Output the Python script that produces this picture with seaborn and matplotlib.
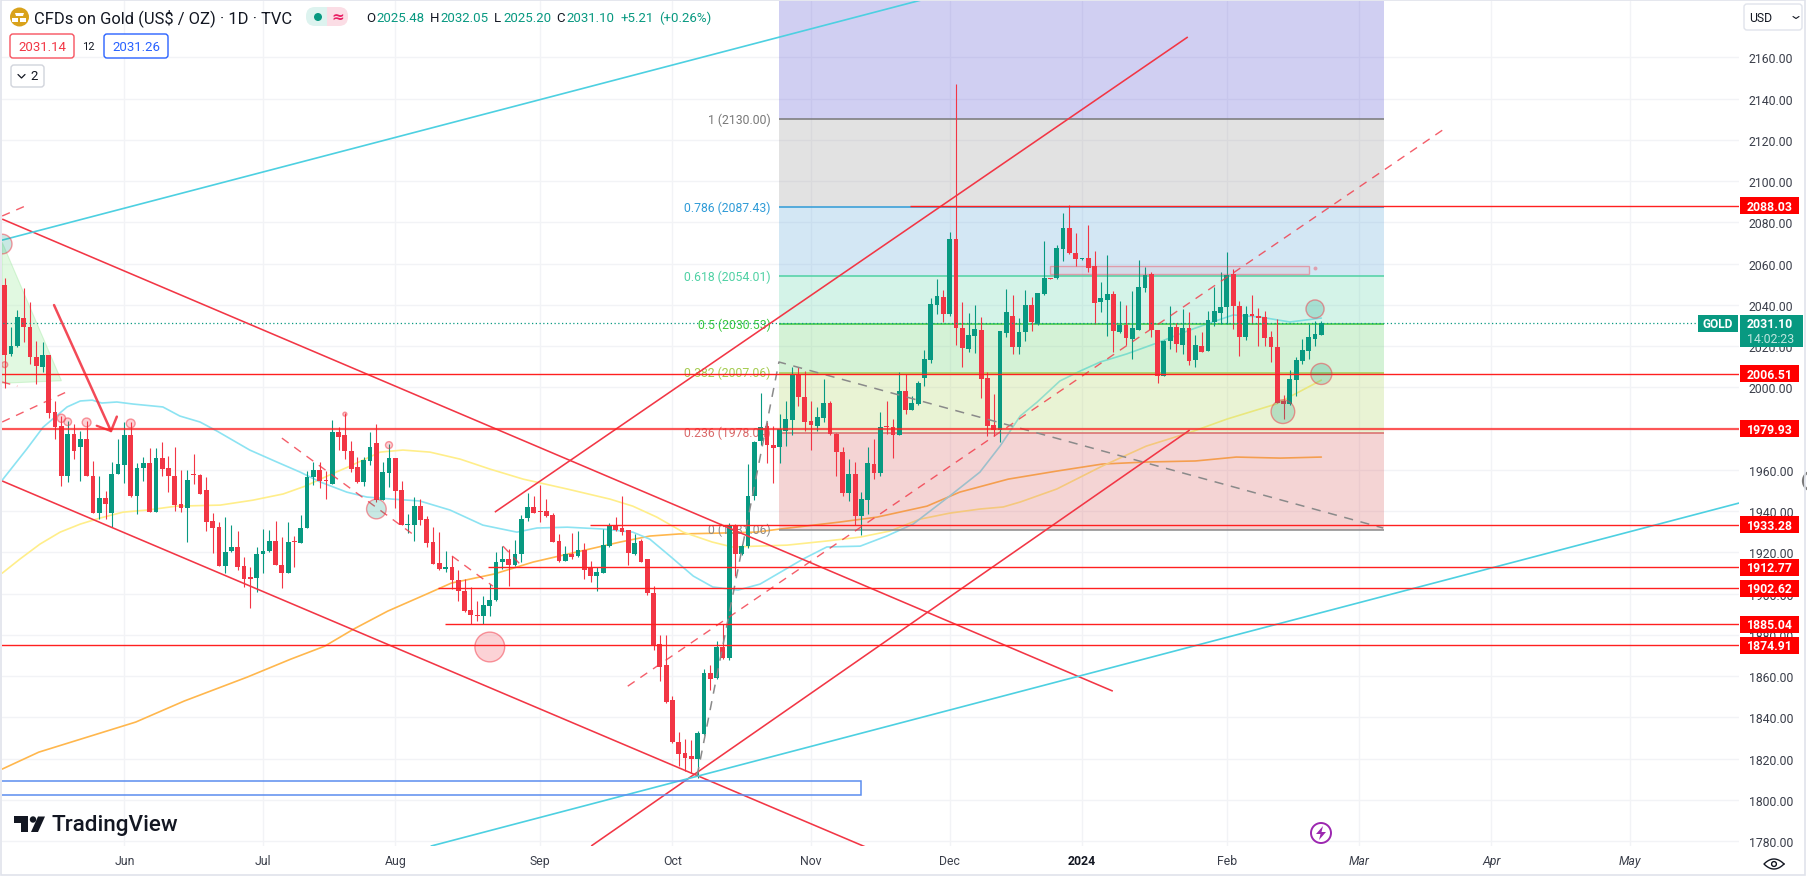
import numpy as np
import pandas as pd
import seaborn as sns
import matplotlib
matplotlib.use("Agg")
import matplotlib.pyplot as plt
from matplotlib.colors import to_rgba
from matplotlib.patches import Rectangle, FancyBboxPatch, Circle, Polygon

sns.set_theme(style="white")
plt.rcParams['font.family'] = ['Roboto', 'DejaVu Sans']

# daily candles
opens = [2049.6,2016.1,2020.2,2033.4,2029.4,2014.5,2010.1,2015.6,1988.2,1981.4,
         1957.1,1977.3,1970.9,1974.9,1956.8,1939.3,1946.3,1939.0,1958.2,1962.3,
         1976.8,1947.4,1960.7,1963.1,1939.8,1965.7,1960.7,1956.8,1943.2,1941.6,
         1957.8,1957.4,1950.3,1935.0,1932.1,1913.5,1920.6,1922.8,1913.2,1907.6,
         1907.6,1919.0,1920.6,1925.4,1914.1,1910.2,1925.6,1924.6,1931.9,1956.3,
         1960.0,1955.0,1953.2,1978.5,1976.8,1969.2,1961.5,1954.2,1964.4,1973.0,
         1945.5,1958.7,1965.7,1950.3,1933.2,1933.2,1942.6,1936.1,1924.8,1914.6,
         1911.9,1913.1,1906.5,1901.3,1891.8,1889.4,1888.9,1894.1,1896.8,1915.1,
         1916.7,1913.8,1919.1,1936.7,1942.1,1939.8,1940.1,1938.0,1925.4,1915.9,
         1919.3,1918.3,1921.2,1912.5,1908.3,1910.2,1923.2,1932.9,1931.7,1930.6,
         1919.0,1925.4,1916.7,1900.5,1875.5,1865.3,1848.5,1828.1,1822.5,1821.0,
         1820.0,1831.8,1861.3,1859.3,1873.9,1868.6,1932.6,1919.2,1922.9,1947.4,
         1974.1,1981.4,1972.2,1970.9,1979.0,1984.3,2006.4,1995.1,1983.5,1981.4,
         1985.1,1992.2,1977.6,1968.8,1949.0,1957.9,1937.7,1945.5,1962.8,1958.7,
         1980.9,1980.6,1977.0,1998.2,1989.1,1991.9,2004.5,2013.1,2040.1,2043.6,
         2035.5,2071.7,2028.9,2018.6,2025.0,2027.8,2004.3,1981.9,1979.3,2026.6,
         2034.7,2019.4,2027.0,2040.1,2030.6,2045.3,2052.9,2052.9,2067.1,2077.3,
         2065.2,2062.1,2062.6,2058.9,2041.2,2042.2,2045.1,2026.7,2030.2,2023.5,
         2027.9,2048.2,2055.0,2027.9,2005.7,2022.3,2029.3,2020.7,2028.8,2013.3,
         2020.2,2017.8,2031.5,2036.1,2038.8,2055.0,2039.6,2024.6,2035.4,2034.4,
         2034.1,2024.3,2019.7,1993.4,1991.9,2003.6,2012.8,2017.8,2023.5,2025.48]
closes = [2015.7,2020.2,2033.9,2029.1,2014.8,2010.5,2015.6,1987.8,1981.0,1957.1,
          1977.3,1969.1,1974.9,1956.8,1939.3,1946.3,1943.4,1957.9,1962.6,1976.8,
          1947.1,1961.0,1963.1,1939.8,1965.7,1960.4,1956.8,1942.9,1941.6,1955.0,
          1957.4,1948.4,1934.8,1931.9,1913.5,1920.3,1922.4,1912.8,1907.3,1907.3,
          1919.3,1920.8,1925.6,1913.8,1910.2,1925.1,1925.1,1931.9,1956.5,1960.0,
          1954.7,1954.4,1978.5,1976.0,1969.2,1960.4,1954.2,1964.7,1971.3,1945.5,
          1959.1,1965.7,1949.7,1933.2,1933.5,1942.6,1935.8,1924.5,1914.4,1911.9,
          1913.1,1906.7,1901.3,1891.6,1889.5,1888.9,1894.4,1896.8,1915.1,1916.7,
          1913.8,1919.3,1936.4,1942.2,1939.3,1939.5,1937.7,1925.1,1915.9,1919.3,
          1917.5,1921.2,1911.5,1908.3,1910.6,1923.5,1932.9,1930.8,1930.1,1919.6,
          1924.5,1915.4,1900.2,1874.7,1864.2,1847.5,1827.8,1822.1,1820.5,1819.9,
          1832.6,1861.3,1858.8,1874.0,1868.6,1932.6,1919.2,1923.2,1947.4,1973.5,
          1980.9,1972.0,1970.4,1979.8,1984.6,2006.4,1995.1,1983.3,1981.9,1985.4,
          1992.2,1977.2,1968.8,1949.0,1957.9,1937.7,1945.8,1963.1,1958.7,1980.9,
          1980.6,1977.0,1998.2,1989.1,1992.2,2001.9,2013.7,2040.5,2044.1,2035.5,
          2071.7,2028.6,2018.9,2025.3,2028.3,2004.0,1981.4,1979.3,2027.3,2036.5,
          2019.4,2026.7,2040.1,2031.5,2045.8,2052.9,2052.4,2067.6,2077.3,2065.2,
          2062.2,2062.6,2058.0,2040.7,2043.2,2045.1,2027.5,2030.2,2023.9,2028.8,
          2048.8,2054.5,2027.9,2005.7,2022.6,2029.3,2020.9,2028.8,2012.9,2020.7,
          2017.3,2032.8,2037.0,2039.1,2054.5,2039.3,2024.6,2035.4,2034.6,2033.8,
          2023.9,2019.4,1992.4,1991.9,2004.0,2013.1,2018.1,2024.3,2025.9,2031.10]
highs = [2052.8,2029.5,2037.6,2048.0,2041.2,2022.6,2022.1,2015.6,1993.2,1986.2,
         1983.8,1982.2,1978.9,1983.8,1964.4,1956.8,1949.8,1963.6,1974.9,1983.0,
         1983.0,1963.3,1966.0,1970.4,1970.4,1973.3,1966.8,1970.9,1960.0,1960.0,
         1967.6,1957.9,1956.5,1939.3,1934.8,1937.2,1933.2,1930.4,1917.5,1912.7,
         1922.4,1931.2,1930.9,1935.1,1927.5,1934.5,1928.0,1938.0,1959.5,1963.6,
         1963.6,1959.5,1984.1,1981.0,1987.5,1974.1,1966.0,1966.0,1978.5,1982.2,
         1963.6,1972.5,1965.7,1954.7,1938.5,1946.6,1945.8,1937.7,1932.5,1930.0,
         1920.7,1918.0,1911.5,1907.0,1903.4,1896.5,1898.9,1904.6,1920.3,1923.2,
         1921.6,1926.1,1938.0,1948.7,1947.4,1952.8,1946.1,1939.0,1928.8,1923.2,
         1929.3,1930.4,1924.5,1915.9,1912.7,1931.3,1934.2,1937.2,1947.4,1930.9,
         1928.8,1926.4,1916.7,1903.8,1879.8,1879.8,1850.1,1833.1,1829.7,1828.9,
         1833.4,1863.4,1865.3,1877.1,1885.2,1934.0,1933.5,1924.0,1962.8,1974.0,
         1997.2,1983.0,1981.4,1987.0,1993.5,2009.7,2009.7,2008.0,1993.5,1990.7,
         2004.0,1993.3,1978.1,1970.9,1965.5,1963.6,1949.4,1970.9,1974.9,1988.2,
         1993.2,1984.6,2007.6,2006.4,1995.9,2003.2,2018.2,2043.1,2052.5,2047.3,
         2075.1,2147.0,2041.2,2036.0,2039.9,2033.9,2007.6,1996.7,2027.3,2047.7,
         2044.7,2033.5,2047.2,2043.7,2045.8,2070.8,2053.0,2069.0,2084.6,2088.4,
         2074.9,2062.6,2078.7,2066.0,2050.9,2064.2,2046.6,2042.0,2040.1,2046.9,
         2061.9,2058.5,2055.8,2027.9,2023.1,2039.6,2031.2,2038.0,2036.4,2025.4,
         2026.7,2037.2,2048.8,2055.8,2065.5,2057.4,2042.0,2039.3,2044.8,2038.6,
         2037.0,2027.5,2033.2,1996.3,2008.4,2014.6,2023.5,2030.7,2032.3,2032.05]
lows = [1999.5,2015.0,2019.8,2021.8,2011.3,2001.6,2007.6,1984.9,1974.9,1952.3,
        1954.2,1965.2,1954.7,1956.8,1939.0,1936.4,1936.1,1932.1,1957.9,1953.6,
        1946.6,1938.4,1954.7,1939.7,1939.7,1956.8,1949.4,1940.1,1939.7,1925.1,
        1953.1,1948.1,1930.4,1919.6,1913.2,1910.2,1920.3,1911.5,1903.0,1892.8,
        1900.9,1910.2,1920.3,1913.8,1902.8,1909.9,1912.7,1924.5,1931.6,1952.6,
        1951.0,1945.8,1953.1,1969.7,1965.5,1959.1,1953.4,1952.3,1962.3,1944.2,
        1945.2,1951.5,1941.3,1933.2,1929.3,1925.6,1933.2,1922.8,1914.4,1911.5,
        1910.7,1902.2,1896.5,1891.3,1885.2,1886.8,1885.2,1889.2,1896.5,1911.9,
        1903.8,1913.5,1915.4,1935.3,1939.0,1934.8,1936.9,1924.8,1915.4,1915.6,
        1917.0,1917.5,1907.0,1905.7,1901.3,1909.9,1922.8,1930.4,1928.3,1914.0,
        1918.6,1915.1,1899.2,1872.7,1857.7,1846.9,1827.5,1816.5,1814.1,1813.2,
        1810.8,1831.5,1853.3,1858.8,1868.2,1868.0,1908.5,1918.5,1922.0,1945.5,
        1972.0,1963.3,1953.6,1963.3,1971.7,1976.8,1991.1,1978.9,1969.7,1978.9,
        1983.3,1976.8,1957.1,1947.4,1945.0,1933.2,1928.3,1938.5,1955.8,1956.8,
        1977.3,1965.8,1976.8,1987.0,1988.8,1991.6,2000.8,2011.8,2035.5,2031.5,
        2034.4,2020.5,2010.1,2017.3,2016.9,1994.6,1976.2,1976.2,1973.6,2024.2,
        2016.1,2016.2,2022.6,2027.5,2030.2,2045.0,2052.4,2052.5,2061.4,2064.7,
        2058.7,2061.9,2055.8,2030.7,2036.4,2025.1,2017.0,2026.4,2020.5,2013.8,
        2027.6,2046.4,2024.3,2001.9,2005.3,2018.6,2017.0,2016.2,2011.0,2009.7,
        2017.0,2017.6,2029.6,2030.7,2030.7,2028.3,2015.4,2023.0,2030.7,2020.2,
        2020.2,2012.5,1992.4,1984.6,1991.6,1995.6,2011.3,2013.8,2020.2,2025.20]

# moving averages: bar position and price
ma_cyan_x = [-0.4,3.5,6.1,9.9,12,13.9,15.4,17.8,20.4,25.1,27.8,31,33.7,38.9,43.2,46.9,50.1,54.3,57.5,61.6,
             65.9,70.7,75.9,81.3,84.5,89.3,95,99.7,102.4,105.6,109.3,112.4,116.4,119.9,126.7,130.5,135.8,140,
             144.2,150,154.8,158,161.2,163.9,167.5,170.7,173.9,178.1,182.9,187.7,190.8,195,199.3,204,209]
ma_cyan = [1955.0,1970.1,1980.7,1990.5,1993.4,1993.8,1992.4,1992.9,1991.9,1990.5,1986.1,1983.2,1978.8,1969.6,
           1963.8,1958.9,1954.1,1949.2,1946.8,1945.8,1944.9,1940.5,1933.2,1929.8,1931.8,1932.2,1931.3,1929.8,
           1926.4,1918.2,1908.5,1903.2,1901.7,1904.6,1916.7,1922.6,1923.0,1927.9,1933.7,1947.3,1958.9,1971.5,
           1986.1,1992.9,2003.1,2007.9,2012.3,2016.2,2021.5,2027.3,2030.7,2035.1,2034.1,2031.7,2033.6]
ma_yellow_x = [-0.4,2.4,5.6,8.8,12,15.1,18.8,22.6,27.3,34.2,39.4,44.2,47.7,51.2,54.8,59.6,63.2,67.5,72.3,77,
               82.3,89.3,96.1,99.7,103.5,107.7,112.3,115.5,119.4,124.2,130.5,135.8,140.5,145.3,150,154.8,
               158.5,161.2,167,174.2,181.2,188.3,194,201.8,209]
ma_yellow = [1909.9,1916.7,1924.0,1929.8,1933.7,1936.6,1939.5,1940.5,1942.4,1942.9,1945.3,1948.3,1952.1,1957.0,
             1961.8,1968.6,1969.6,1968.6,1965.2,1960.4,1955.5,1950.7,1945.8,1942.4,1937.1,1929.8,1925.0,1922.6,
             1923.0,1923.5,1925.5,1927.4,1930.3,1936.1,1939.0,1941.0,1942.0,1944.4,1950.7,1961.8,1971.5,1978.3,
             1984.6,1991.9,2003.5]
ma_orange_x = [-0.4,5.4,13.1,20.8,28.5,38.5,45.4,50.8,55.4,60.8,67,70.9,77.7,83.9,90,97.7,102.4,107,113.1,119.2,
               123.1,132.6,138.5,146.4,151.6,159.3,167,174.2,181.2,189,195.5,202.5,209]
ma_orange = [1814.9,1823.1,1830.4,1837.7,1847.9,1859.5,1868.2,1874.5,1882.8,1891.5,1899.8,1905.1,1909.5,1915.3,
             1919.6,1925.0,1927.9,1928.9,1929.3,1929.8,1931.3,1934.7,1937.1,1942.4,1949.2,1955.5,1959.4,1962.8,
             1963.8,1964.3,1966.2,1965.7,1966.2]

# fibonacci retracement
fib_ratio = ["1", "0.786", "0.618", "0.5", "0.382", "0.236", "0"]
fib_price = [2130.00, 2087.43, 2054.01, 2030.53, 2007.06, 1978.04, 1931.06]
fib_line = ["#787878", "#2F9BD7", "#4FD1A4", "#3CC83C", "#A5CC50", "#D96A6A", "#8A8A8A"]
fib_fill = ["#8F8F8F", "#53A3D7", "#57D3A7", "#57CF5F", "#ABD357", "#D75757"]
fib_top_fill = "#4743CF"
fib_x = [122.9, 218.9]

# horizontal levels with their price tags
level_price = [2088.03, 2006.51, 1979.93, 1933.28, 1912.77, 1902.62, 1885.04, 1874.91]
level_start = [143.7, -1, -1, 92.9, 76.7, 68.8, 69.9, -1]

# trend lines: (bar, price) end points
red_lines = [((-0.4, 2081.6), (175.9, 1852.7)), ((-0.4, 1954.6), (136.6, 1777.2)),
             ((77.8, 1939.5), (187.8, 2169.9)), ((93.1, 1777.6), (188.1, 1979.3))]
cyan_lines = [((-0.4, 2071.4), (146.1, 2188.3)), ((67.7, 1777.6), (275.3, 1943.9))]
red_dashed = [((98.9, 1855.1), (228.5, 2125.3)), ((-0.4, 1983.2), (10.1, 1998.2)), ((-0.4, 2002.6), (2, 2000.6)),
              ((-0.4, 2083.1), (4, 2088.9)), ((44, 1975.4), (65.4, 1927.4)), ((71, 1918.2), (77.5, 1903.6)),
              ((79.1, 1923.0), (82.1, 1913.3))]
grey_dash_x = [109.9, 122.9, 218.8]
grey_dash_y = [1811.5, 2012.3, 1931.8]

dot_x = [77, 59, 202.9, 208, 209, 9, 10, 13, 20, 0, 61, 54, -0.4]
dot_y = [1874.1, 1941, 1988.2, 2038, 2006.5, 1985, 1983.3, 1983, 1982.5, 2011, 1972, 1987, 2069.5]
dot_size = [460, 200, 290, 170, 230, 35, 30, 40, 40, 18, 25, 8, 200]
dot_fill = ["#F23645", "#089981", "#089981", "#089981", "#089981", "#F23645", "#F23645", "#F23645", "#F23645",
            "#F23645", "#F23645", "#F23645", "#089981"]

month_pos = [19, 41, 62, 85, 106, 128, 150, 171, 194, 215, 236, 258]
month_name = ["Jun", "Jul", "Aug", "Sep", "Oct", "Nov", "Dec", "2024", "Feb", "Mar", "Apr", "May"]
price_ticks = list(range(1780, 2161, 20))

RED = "#F23645"
GREEN = "#089981"
GRID = "#F2F3F6"
W, H = 1808, 879

fig = plt.figure(figsize=(W / 100, H / 100), dpi=100, facecolor="white")
ax = fig.add_axes([2 / W, 1 - 847 / H, 1737 / W, 845 / H])

# grid and axes
ax.set_xticks(month_pos)
ax.set_xticklabels(month_name)
ax.set_yticks(price_ticks)
ax.set_yticklabels(["%.2f" % t for t in price_ticks])
ax.yaxis.tick_right()
ax.tick_params(axis="both", length=0, labelsize=8.8, labelcolor="#3A3E4A")
ax.tick_params(axis="y", pad=7)
ax.tick_params(axis="x", pad=5.5)
for lab in ax.get_xticklabels():
    if lab.get_text() == "2024":
        lab.set_fontweight("bold")
        lab.set_color("#131722")
    if lab.get_text() in ("Mar", "Apr", "May"):
        lab.set_fontstyle("italic")
ax.grid(True, color=GRID, lw=1)
ax.set_axisbelow(True)
sns.despine(ax=ax, left=True, bottom=True, top=True, right=True)

# moving averages, below the fib zones
ma_sets = [(ma_orange_x, ma_orange, "#FFB74D"), (ma_yellow_x, ma_yellow, "#FFEE8A"), (ma_cyan_x, ma_cyan, "#8CE3F2")]
for mx, my, col in ma_sets:
    df = pd.DataFrame({"bar": mx, "price": my})
    sns.lineplot(data=df, x="bar", y="price", color=col, lw=1.2, estimator=None, sort=False,
                 errorbar=None, legend=False, ax=ax, zorder=1.5)

# fib zones
ax.add_patch(Rectangle((fib_x[0], fib_price[0]), fib_x[1] - fib_x[0], 2190 - fib_price[0], fc=fib_top_fill,
                       alpha=0.25, lw=0, zorder=2))
for i in range(6):
    ax.add_patch(Rectangle((fib_x[0], fib_price[i + 1]), fib_x[1] - fib_x[0], fib_price[i] - fib_price[i + 1],
                           fc=fib_fill[i], alpha=0.25, lw=0, zorder=2))
for i in range(7):
    ax.hlines(fib_price[i], fib_x[0], fib_x[1], color=fib_line[i], lw=1.1, zorder=2.2)
    ax.annotate("%s (%.2f)" % (fib_ratio[i], fib_price[i]), (fib_x[0], fib_price[i]), xytext=(-6, 0),
                textcoords="offset points", ha="right", va="center", fontsize=8.8, color=fib_line[i], zorder=2.3)

# candles
x = np.arange(len(opens))
opens_a, closes_a = np.array(opens), np.array(closes)
up = closes_a >= opens_a
cols = np.where(up, GREEN, RED)
ax.vlines(x, lows, highs, colors=cols, lw=0.8, zorder=3)
ax.bar(x, np.maximum(np.abs(closes_a - opens_a), 0.6), bottom=np.minimum(opens_a, closes_a), width=0.76,
       color=cols, lw=0, zorder=3.1)

# current price
ax.hlines(closes[-1], -1, 268.6, color=GREEN, lw=0.9, linestyles=(0, (1, 2)), zorder=3.2)

# drawings on top
ax.add_patch(Polygon([(-0.4, 2070.3), (9, 2003.2), (-0.4, 2002)], fc="#BDF2BD", ec="#A8EAA8", alpha=0.45, lw=0.8, zorder=2))
for a, b in red_lines:
    ax.plot([a[0], b[0]], [a[1], b[1]], color="#F23645", lw=1.15, zorder=4, solid_capstyle="butt")
for a, b in cyan_lines:
    ax.plot([a[0], b[0]], [a[1], b[1]], color="#4DD0E1", lw=1.2, zorder=4)
for a, b in red_dashed:
    ax.plot([a[0], b[0]], [a[1], b[1]], color="#F23645", lw=1.0, ls=(0, (6, 5)), alpha=0.8, zorder=4)
ax.plot(grey_dash_x, grey_dash_y, color="#8A8A8A", lw=1.1, ls=(0, (6, 5)), zorder=4)
ax.plot([7.83, 16.87, 17.8], [2039.9, 1978.8, 1985.8], color="#F23645", lw=1.8, alpha=0.9, zorder=4)
ax.plot([14.6, 16.87], [1981.4, 1978.8], color="#F23645", lw=1.6, alpha=0.9, zorder=4)
for price, start in zip(level_price, level_start):
    ax.hlines(price, start, 275.3, color="#FF2020", lw=1.6 if price == 1979.93 else 1.0,
              alpha=0.75 if price == 1979.93 else 1, zorder=4.5)

# boxes
ax.add_patch(Rectangle((-1, 1802.4), 137, 6.8, fc="none", ec="#5B8DEF", lw=1.1, zorder=4))
ax.add_patch(Rectangle((166, 2055.1), 41, 3.6, fc=to_rgba("#F23645", 0.06), ec=to_rgba("#F23645", 0.4), lw=1.0, zorder=4))
ax.scatter([208], [2057.9], s=8, c="#F23645", alpha=0.4, lw=0, zorder=4)

# circles
circ = pd.DataFrame({"bar": dot_x, "price": dot_y, "fill": dot_fill})
sns.scatterplot(data=circ, x="bar", y="price", s=dot_size, c=[to_rgba(c, 0.22) for c in dot_fill],
                edgecolor=to_rgba("#F23645", 0.5), linewidth=1.0, legend=False, ax=ax, zorder=4.6)
ax.set_xlabel("")
ax.set_ylabel("")
ax.set_xlim(-0.43, 275.3)
ax.set_ylim(1777.6, 2187.35)

# chrome in pixel coordinates
ov = fig.add_axes([0, 0, 1, 1], zorder=10)
ov.set_xlim(0, W)
ov.set_ylim(H, 0)
ov.axis("off")
ov.patch.set_alpha(0)


def ypx(price):
    return H - ax.transData.transform((0, price))[1]


def tag(x0, x1, y0, y1, col, **kw):
    ov.add_patch(Rectangle((x0, y0), x1 - x0, y1 - y0, fc=col, lw=0, **kw))


def rbox(x0, x1, y0, y1, ec, fc="white", lw=1.0, r=3):
    ov.add_patch(FancyBboxPatch((x0 + r, y0 + r), x1 - x0 - 2 * r, y1 - y0 - 2 * r,
                                boxstyle="round,pad=%d,rounding_size=%d" % (r, r), fc=fc, ec=ec, lw=lw))


# price tags
for price in level_price:
    y = ypx(price)
    tag(1740, 1799, y - 8.5, y + 8.5, "#FF0000")
    ov.text(1769.5, y + 0.5, "%.2f" % price, color="white", fontsize=8.8, fontweight="bold", ha="center", va="center")
y = ypx(closes[-1])
tag(1698, 1738, y - 8.5, y + 8.5, GREEN)
ov.text(1718, y + 0.5, "GOLD", color="white", fontsize=8.6, fontweight="bold", ha="center", va="center")
tag(1740, 1803, y - 8.5, y + 23.5, GREEN)
ov.text(1769.5, y + 0.5, "%.2f" % closes[-1], color="white", fontsize=8.8, fontweight="bold", ha="center", va="center")
ov.text(1771, y + 15, "14:02:23", color="#BFE6DF", fontsize=8.8, ha="center", va="center")

# header
ov.add_patch(Circle((19.5, 18), 9.5, fc="#D9A21B", lw=0))
ov.add_patch(Polygon([(16, 17), (23, 17), (24, 14), (15, 14)], fc="white", lw=0))
ov.add_patch(Rectangle((12.5, 18.5), 6, 4, fc="white", lw=0))
ov.add_patch(Rectangle((20.5, 18.5), 6, 4, fc="white", lw=0))
ov.text(34, 18, "CFDs on Gold (US$ / OZ) · 1D · TVC", fontsize=11.9, color="#131722", va="center", ha="left")
ov.add_patch(FancyBboxPatch((306, 8), 21, 19, boxstyle="round,pad=0,rounding_size=9", fc="#DDF3EF", lw=0))
ov.add_patch(Rectangle((316, 8), 11, 19, fc="#DDF3EF", lw=0))
ov.add_patch(FancyBboxPatch((327, 8), 21, 19, boxstyle="round,pad=0,rounding_size=9", fc="#FBDDE5", lw=0))
ov.add_patch(Rectangle((327, 8), 10, 19, fc="#FBDDE5", lw=0))
ov.add_patch(Circle((318, 18), 4, fc=GREEN, lw=0))
ov.text(337.5, 17.5, "≈", color="#E91E63", fontsize=11, fontweight="bold", ha="center", va="center",
        family=["DejaVu Sans"])
ohlc_text = [(366, "O", "#131722"), (376.5, "2025.48", GREEN), (430, "H", "#131722"), (440.5, "2032.05", GREEN),
             (494, "L", "#131722"), (503, "2025.20", GREEN), (556.5, "C", "#131722"), (566, "2031.10", GREEN),
             (621, "+5.21", GREEN), (659, "(+0.26%)", GREEN)]
for tx, s, col in ohlc_text:
    ov.text(tx, 18, s, fontsize=9.5, color=col, va="center", ha="left")
rbox(10, 74, 35, 59, "#F7525F")
ov.text(42, 47.5, "2031.14", color="#F23645", fontsize=9.5, ha="center", va="center")
ov.text(88.7, 47.5, "12", color="#131722", fontsize=8, ha="center", va="center")
rbox(104, 168, 35, 59, "#2962FF")
ov.text(136, 47.5, "2031.26", color="#2962FF", fontsize=9.5, ha="center", va="center")
rbox(11, 44, 66, 88, "#D1D4DC")
ov.plot([18, 21.5, 25], [75.5, 79, 75.5], color="#131722", lw=0.9)
ov.text(34.5, 77, "2", color="#131722", fontsize=9.5, ha="center", va="center")

# currency box
rbox(1744, 1802, 5, 31, "#E0E3EB")
ov.text(1749, 18, "USD", color="#131722", fontsize=8.8, va="center", ha="left")
ov.plot([1793, 1796, 1799], [17.5, 19.5, 17.5], color="#131722", lw=0.8)

# logo
ov.add_patch(Polygon([(14, 817.5), (28, 817.5), (28, 833), (21, 833), (21, 824), (14, 824)], fc="#131722", lw=0))
ov.add_patch(Circle((33, 820.5), 3.2, fc="#131722", lw=0))
ov.add_patch(Polygon([(31, 833), (38, 817.5), (45, 817.5), (38, 833)], fc="#131722", lw=0))
ov.text(52, 825.5, "TradingView", fontsize=16.2, fontweight="medium", color="#131722", va="center", ha="left")

# lightning marker
ov.add_patch(Circle((1321, 834), 10, fc="white", ec="#9C27B0", lw=1.4))
ov.add_patch(Polygon([(1323, 827), (1316, 835), (1320.5, 835), (1319, 841), (1326, 833), (1321.5, 833)], fc="#9C27B0", lw=0))

# eye icon
th = np.linspace(0, 2 * np.pi, 60)
ov.plot(1774 + 10 * np.cos(th), 865 + 5 * np.sin(th) * np.abs(np.sin(th)), color="#131722", lw=1.0)
ov.add_patch(Circle((1774, 865), 2.4, fc="none", ec="#131722", lw=1.0))

# side handle and frame
ov.add_patch(Circle((1813, 482), 10, fc="white", ec="#7A7A7A", lw=1.6))
ov.add_patch(Rectangle((1, 1), W - 4, 875, fc="none", ec="#E0E3EB", lw=1.2))

fig.savefig("out.png", dpi=100)
